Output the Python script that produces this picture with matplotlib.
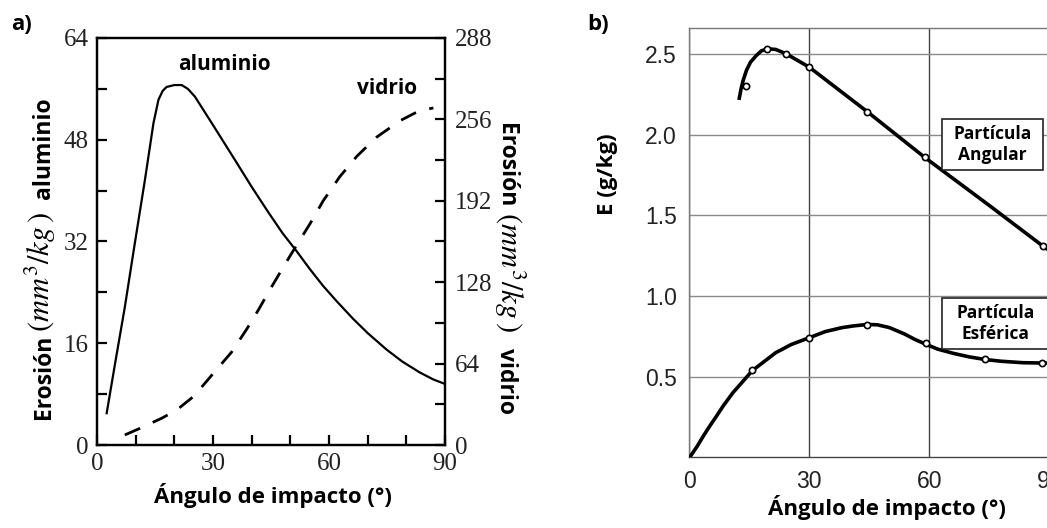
import matplotlib
matplotlib.use("Agg")
import matplotlib.pyplot as plt
from matplotlib.patches import Rectangle

plt.rcParams["mathtext.fontset"] = "stix"

# ---- panel a) : erosion vs impact angle, aluminium (left axis) / glass (right axis)
alu_ang = [2.5, 4.7, 7.2, 9.8, 12.4, 14.6, 15.9, 17.0, 18.0, 20.0, 21.9, 23.5, 25.3,
           29.7, 35.7, 40.0, 44.3, 48.0, 51.6, 55.0, 58.5, 62.0, 66.3, 70.0, 74.9,
           79.0, 83.5, 87.0, 90.0]
alu_ero = [5.0, 12.9, 21.7, 31.8, 41.7, 50.6, 54.3, 55.7, 56.3, 56.6, 56.6, 56.0, 54.8,
           50.6, 44.8, 40.6, 36.6, 33.3, 30.5, 27.7, 25.0, 22.6, 19.8, 17.6, 15.0,
           13.1, 11.4, 10.3, 9.6]

vid_ang = [7.2, 11.1, 16.7, 20.6, 24.9, 27.9, 30.1, 34.8, 38.7, 41.7, 44.7, 48.2,
           51.6, 55.1, 58.5, 62.8, 67.2, 72.3, 78.4, 83.5, 87.0]
vid_ero = [7.9, 13.1, 21.0, 27.5, 38.0, 48.5, 56.4, 73.0, 91.0, 106.0, 122.0, 140.0,
           157.0, 174.0, 192.0, 211.0, 227.0, 242.0, 255.0, 263.0, 265.0]

left_ticks = [0, 16, 32, 48, 64]
right_ticks = [0, 64, 128, 192, 256, 320]
right_tick_labels = ["0", "64", "128", "192", "256", "288"]
x_ticks = [0, 30, 60, 90]

# ---- panel b) : E (g/kg) for angular and spherical particles
ang_curve_x = [12.5, 12.9, 13.5, 14.3, 15.3, 16.7, 18.0, 19.5, 21.6, 24.2, 30.0, 44.5,
               59.0, 75.2, 88.4, 91.0]
ang_curve_y = [2.227, 2.28, 2.34, 2.40, 2.45, 2.49, 2.52, 2.533, 2.529, 2.502, 2.419,
               2.143, 1.857, 1.558, 1.310, 1.265]
ang_pts_x = [14.2, 19.5, 24.2, 30.0, 44.5, 59.0, 88.4]
ang_pts_y = [2.30, 2.53, 2.50, 2.42, 2.14, 1.86, 1.31]

esf_curve_x = [0.2, 2.0, 3.5, 5.0, 6.8, 8.5, 10.9, 13.0, 15.8, 18.5, 21.6, 25.5, 30.0,
               34.0, 38.1, 41.0, 44.5, 47.0, 50.0, 53.8, 56.5, 59.3, 62.0, 66.0, 70.0,
               73.9, 78.0, 83.4, 88.4, 91.0]
esf_curve_y = [0.004, 0.07, 0.132, 0.19, 0.256, 0.32, 0.401, 0.46, 0.539, 0.59, 0.649,
               0.70, 0.742, 0.78, 0.804, 0.815, 0.824, 0.822, 0.805, 0.765, 0.73, 0.700,
               0.672, 0.645, 0.623, 0.607, 0.596, 0.587, 0.585, 0.585]
esf_pts_x = [15.8, 30.0, 44.5, 59.3, 73.9, 88.2]
esf_pts_y = [0.539, 0.742, 0.818, 0.707, 0.607, 0.587]

b_yticks = [0.5, 1.0, 1.5, 2.0, 2.5]

LABEL_FONT = "Open Sans"
W, H = 1047, 528
fig = plt.figure(figsize=(W / 100, H / 100), dpi=100)


def fx(px):
    return px / W


def fy(py):
    return 1 - py / H


def label_piece(x, y, s, rot, size=16.5):
    # pieces of a rotated axis label, aligned on a common baseline
    fig.text(fx(x), fy(y), s, rotation=rot, rotation_mode="anchor", ha="center",
             va="baseline", fontsize=size, fontweight="bold", family=LABEL_FONT)


# ================= panel a =================
ax = fig.add_axes([fx(97), fy(445), (445 - 97) / W, (445 - 38) / H])
ax.plot(alu_ang, alu_ero, color="black", lw=1.6, solid_joinstyle="round")
ax.set_xlim(0, 90)
ax.set_ylim(0, 64)
ax.set_xticks(x_ticks)
ax.set_xticks(range(0, 91, 10), minor=True)
ax.set_yticks(left_ticks)
ax.set_yticks(range(0, 65, 8), minor=True)
for s in ax.spines.values():
    s.set_linewidth(1.6)
ax.tick_params(which="both", direction="in", width=1.6, length=7, top=False, right=False)
ax.tick_params(axis="both", which="major", labelsize=18, pad=6, labelcolor="#222222")
for lab in ax.get_xticklabels() + ax.get_yticklabels():
    lab.set_fontfamily("Liberation Serif")

ax2 = ax.twinx()
ax2.plot(vid_ang, vid_ero, color="black", lw=2.0, dashes=(6, 5), solid_joinstyle="round")
ax2.set_ylim(0, 320)
ax2.set_yticks(right_ticks)
ax2.set_yticklabels(right_tick_labels)
ax2.set_yticks(range(0, 321, 32), minor=True)
ax2.tick_params(which="both", direction="in", width=1.6, length=7)
ax2.tick_params(axis="y", which="major", labelsize=18, pad=7, labelcolor="#222222")
for lab in ax2.get_yticklabels():
    lab.set_fontfamily("Liberation Serif")
for s in ax2.spines.values():
    s.set_linewidth(1.6)

ax.text(33.0, 59.9, "aluminio", ha="center", va="center",
        fontsize=15, fontweight="bold", family=LABEL_FONT)
ax.text(75.1, 56.1, "vidrio", ha="center", va="center",
        fontsize=15, fontweight="bold", family=LABEL_FONT)

fig.text(fx(273), fy(495), "Ángulo de impacto (°)", ha="center", va="center",
         fontsize=16, fontweight="bold", family=LABEL_FONT)

# left label: reads bottom -> top
label_piece(50, 377, "Erosión", 90)
label_piece(50, 272, r"$(mm^3/kg\,)$", 90, size=22)
label_piece(50, 148, "aluminio", 90)
# right label: reads top -> bottom
label_piece(500, 165, "Erosión", 270)
label_piece(500, 272, r"$(mm^3/kg\,)$", 270, size=22)
label_piece(500, 381, "vidrio", 270)

fig.text(fx(22), fy(24), "a)", ha="center", va="center",
         fontsize=16, fontweight="bold", family=LABEL_FONT)

# ================= panel b =================
bx = fig.add_axes([fx(689.3), fy(457.4), 360 / W, (457.4 - 28.3) / H])
bx.set_xlim(0, 90)
bx.set_ylim(0, 2.66)
bx.set_xticks(x_ticks)
bx.set_yticks(b_yticks)
bx.set_yticklabels([f"{v:.1f}" for v in b_yticks])
bx.tick_params(length=0, labelsize=16.5, labelcolor="#222222", pad=9)
for lab in bx.get_xticklabels() + bx.get_yticklabels():
    lab.set_fontfamily("Liberation Sans")
bx.grid(axis="y", color="#8a8a8a", lw=1.0)
bx.grid(axis="x", color="#444444", lw=1.0)
bx.set_axisbelow(True)
for side in ["left", "top", "right"]:
    bx.spines[side].set_color("#777777")
    bx.spines[side].set_linewidth(1.0)
bx.spines["bottom"].set_color("#444444")
bx.spines["bottom"].set_linewidth(1.0)

bx.plot(ang_curve_x, ang_curve_y, color="black", lw=2.6, solid_joinstyle="round", zorder=3)
bx.plot(esf_curve_x, esf_curve_y, color="black", lw=2.6, solid_joinstyle="round", zorder=3)
bx.plot(ang_pts_x, ang_pts_y, "o", ms=4.5, mfc="white", mec="black", mew=1.2, zorder=4)
bx.plot(esf_pts_x, esf_pts_y, "o", ms=4.5, mfc="white", mec="black", mew=1.2, zorder=4)

bx.add_patch(Rectangle((63.1, 1.78), 25.4, 0.32, facecolor="white", edgecolor="#222222",
                       lw=1.2, zorder=5))
bx.text(75.8, 1.94, "Partícula\nAngular", ha="center", va="center", fontsize=12.5,
        fontweight="bold", family=LABEL_FONT, linespacing=1.25, zorder=6)
bx.add_patch(Rectangle((63.1, 0.67), 28, 0.32, facecolor="white", edgecolor="#222222",
                       lw=1.2, zorder=5, clip_on=False))
bx.text(76.5, 0.83, "Partícula\nEsférica", ha="center", va="center", fontsize=12.5,
        fontweight="bold", family=LABEL_FONT, linespacing=1.25, zorder=6)

fig.text(fx(887), fy(507), "Ángulo de impacto (°)", ha="center", va="center",
         fontsize=16, fontweight="bold", family=LABEL_FONT)
fig.text(fx(608), fy(174), "E (g/kg)", rotation=90, ha="center", va="center",
         fontsize=16, fontweight="bold", family=LABEL_FONT)
fig.text(fx(598), fy(24), "b)", ha="center", va="center",
         fontsize=16, fontweight="bold", family=LABEL_FONT)

fig.savefig("out.png", dpi=100)
